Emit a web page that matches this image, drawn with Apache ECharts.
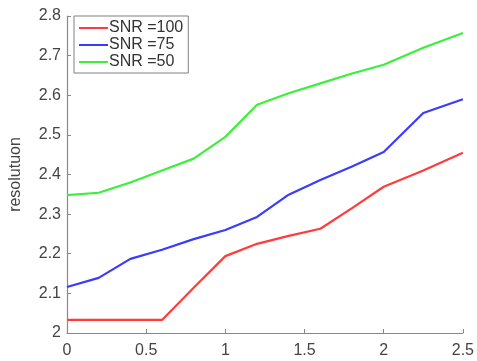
<!DOCTYPE html>
<html><head><meta charset="utf-8">
<script src="https://cdn.jsdelivr.net/npm/echarts@6/dist/echarts.min.js"></script>
<style>html,body{margin:0;padding:0;background:#fff}#c{width:477px;height:361px}</style>
</head><body><div id="c"></div>
<script>
const xs = [0, 0.2, 0.4, 0.6, 0.8, 1.0, 1.2, 1.4, 1.6, 1.8, 2.0, 2.25, 2.5];
const snr100 = [2.033, 2.033, 2.033, 2.033, 2.114, 2.194, 2.225, 2.245, 2.263, 2.315, 2.369, 2.41, 2.455];
const snr75  = [2.116, 2.139, 2.187, 2.21, 2.237, 2.26, 2.293, 2.349, 2.386, 2.42, 2.457, 2.555, 2.59];
const snr50  = [2.348, 2.354, 2.38, 2.41, 2.44, 2.495, 2.576, 2.605, 2.63, 2.655, 2.677, 2.72, 2.757];
const names = ['SNR =100', 'SNR =75', 'SNR =50'];
const colors = ['#ff3b3b', '#3b3bff', '#3bf03b'];
const yTicks = ['2','2.1','2.2','2.3','2.4','2.5','2.6','2.7','2.8'];

const pair = a => xs.map((x,i)=>[x,a[i]]);
const chart = echarts.init(document.getElementById('c'), null, {renderer:'canvas'});
const font = 'Liberation Sans, Arial, sans-serif';
chart.setOption({
  animation:false,
  grid:{left:63,right:11,top:16,bottom:28},
  legend:{
    orient:'vertical', left:74, top:16, padding:[4,5,3,5], itemGap:1,
    borderColor:'#808080', borderWidth:1, backgroundColor:'#fff',
    icon:'rect', itemWidth:29, itemHeight:2,
    textStyle:{fontFamily:font,fontSize:16,color:'#333',padding:[0,0,0,-4],lineHeight:16},
    data:names
  },
  xAxis:{type:'value',min:0,max:2.5,interval:0.5,
    axisLine:{lineStyle:{color:'#888',width:1.2}},
    axisTick:{inside:true,length:4,lineStyle:{color:'#888'}},
    axisLabel:{fontFamily:font,fontSize:16,color:'#444',margin:10,formatter:v=>String(+v.toFixed(1))},
    splitLine:{show:false}},
  yAxis:{type:'value',min:2,max:2.8,interval:0.1,name:'resolutuon',nameLocation:'middle',nameGap:43,
    nameTextStyle:{fontFamily:font,fontSize:16,color:'#444'},
    axisLine:{show:true,lineStyle:{color:'#888',width:1.2}},
    axisTick:{show:true,inside:true,length:4,lineStyle:{color:'#888'}},
    axisLabel:{fontFamily:font,fontSize:16,color:'#444',margin:6,formatter:v=>yTicks[Math.round((v-2)*10)]},
    splitLine:{show:false}},
  series:[snr100,snr75,snr50].map((d,i)=>({
    name:names[i],type:'line',data:pair(d),showSymbol:false,symbol:'none',
    lineStyle:{color:colors[i],width:2.2},itemStyle:{color:colors[i]}
  }))
});
</script></body></html>
